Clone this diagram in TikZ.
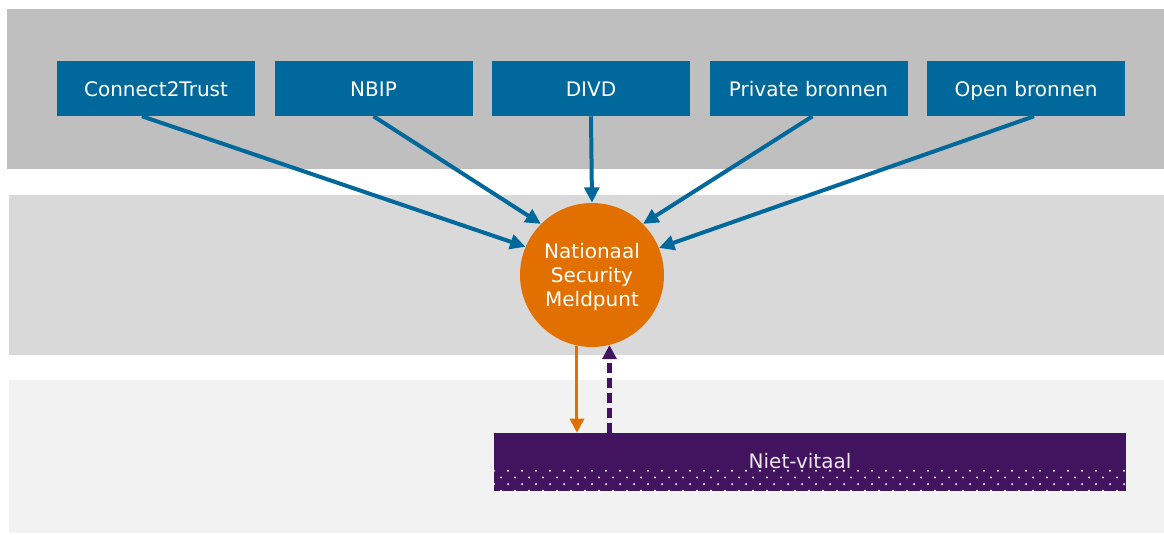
\documentclass[tikz,border=0pt]{standalone}
\usepackage{fontspec}
\setmainfont{DejaVu Sans}
\usepackage{xcolor}
\usepackage{tikz}
\usetikzlibrary{arrows.meta,positioning}
\definecolor{nsmBlue}{HTML}{01689B}
\definecolor{nsmOrange}{HTML}{E17000}
\definecolor{nsmPurple}{HTML}{42145F}
\definecolor{nsmBandA}{HTML}{BFBFBF}
\definecolor{nsmBandB}{HTML}{D9D9D9}
\definecolor{nsmBandC}{HTML}{F2F2F2}
\tikzset{
  nsm diagram/.style={x=0.75pt, y=-0.75pt, font=\fontsize{15}{18}\selectfont,
    line join=miter},
  nsm source/.style={fill=nsmBlue, text=white, minimum width=148.5pt,
    minimum height=41.25pt, inner sep=0pt, text height=12.4pt, text depth=0pt},
  nsm hub/.style={circle, fill=nsmOrange, text=white, minimum size=108pt,
    inner sep=0pt, align=center, text depth=0pt},
  nsm target/.style={fill=nsmPurple, minimum width=474pt,
    minimum height=43.5pt, inner sep=0pt},
  nsm feed/.style={-{Triangle[length=11.5pt, width=11pt]}, draw=nsmBlue,
    line width=3pt},
  nsm out/.style={-{Triangle[length=10.5pt, width=10.5pt]}, draw=nsmOrange,
    line width=2.25pt},
  nsm back/.style={-{Triangle[length=10.5pt, width=10.5pt]}, draw=nsmPurple,
    line width=3.75pt, dash pattern=on 7.5pt off 3.75pt}
}
\begin{document}
\begin{tikzpicture}[nsm diagram]
\useasboundingbox (0,0) rectangle (1164,535);
\fill[white] (0,0) rectangle (1164,535);
% bands
\fill[nsmBandA] (7,9) rectangle (1164,169);
\fill[nsmBandB] (9,195) rectangle (1164,355);
\fill[nsmBandC] (9,380) rectangle (1164,533);
% sources
\node[nsm source] (c2t) at (156,88.5) {Connect2Trust};
\node[nsm source] (nbip) at (373.5,88.5) {NBIP};
\node[nsm source] (divd) at (591,88.5) {DIVD};
\node[nsm source] (priv) at (808.5,88.5) {Private bronnen};
\node[nsm source] (open) at (1026,88.5) {Open bronnen};
% hub
\node[nsm hub] (nsm) at (592,275) {Nationaal\\Security\\Meldpunt};
% niet-vitaal
\node[nsm target] (nv) at (810,462) {};
\begin{scope}
  \clip (nv.south west) rectangle (nv.north east);
  \foreach \row in {0,1,2,3} {
    \pgfmathsetmacro{\dy}{470.7+6.7*\row}
    \pgfmathsetmacro{\dx}{494+7*mod(\row,2)}
    \foreach \k in {0,...,45}
      \fill[white] (\dx+14*\k,\dy) circle[radius=1.1];
  }
\end{scope}
\node[text=white!90!nsmPurple] (nvlabel) at (800,461) {Niet-vitaal};
% feeds
\draw[nsm feed] ([xshift=-10.5pt]c2t.south) -- (nsm.157);
\draw[nsm feed] (nbip.south) -- (nsm.135);
\draw[nsm feed] (divd.south) -- (nsm.90);
\draw[nsm feed] ([xshift=3pt]priv.south) -- (nsm.45);
\draw[nsm feed] ([xshift=6pt]open.south) -- (nsm.22);
% to and from niet-vitaal
\draw[nsm out] (nsm.258) -- (nsm.258 |- nv.north);
\draw[nsm back] (nsm.284 |- nv.north) -- (nsm.284);
\end{tikzpicture}
\end{document}
